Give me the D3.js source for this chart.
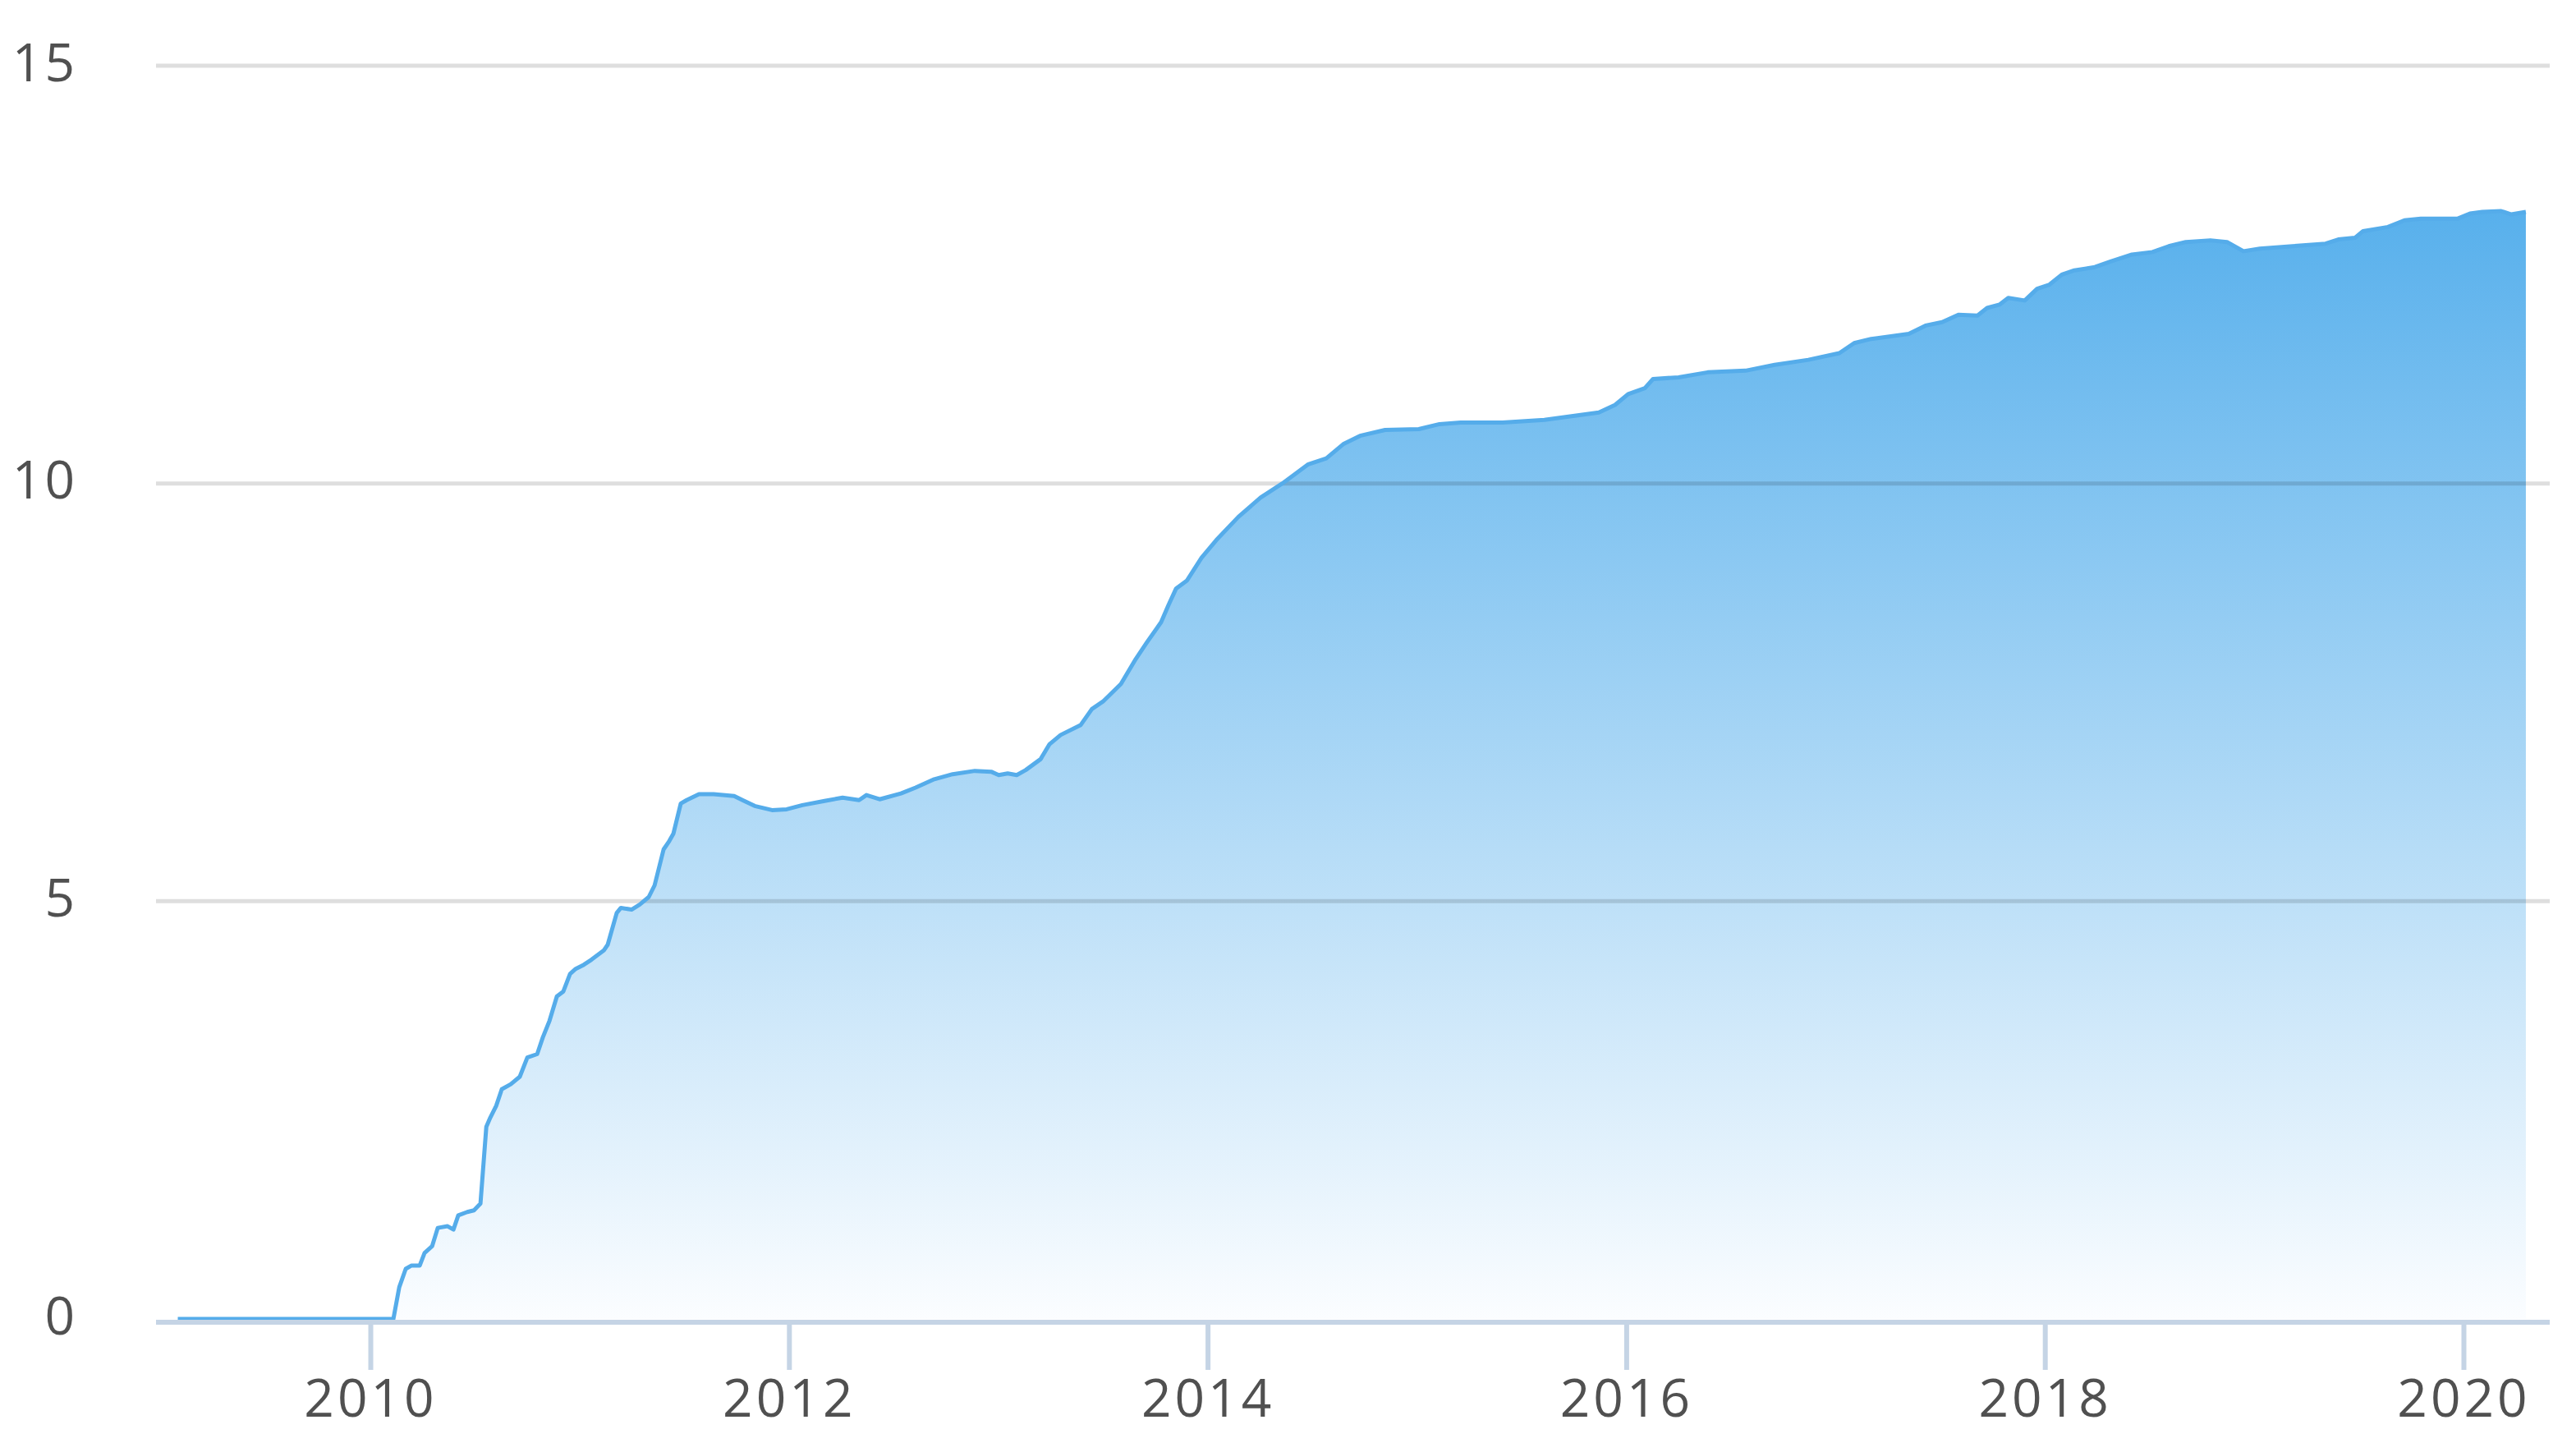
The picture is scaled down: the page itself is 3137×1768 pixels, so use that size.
<!DOCTYPE html>
<html>
<head>
<meta charset="utf-8">
<script src="https://cdn.jsdelivr.net/npm/d3@7"></script>
<style>
  html, body { margin: 0; padding: 0; background: #ffffff; }
  svg { display: block; }
  text { font-family: "Open Sans", "Noto Sans", sans-serif; }
</style>
</head>
<body>
<svg id="chart" width="3137" height="1768"></svg>
<script>
// ---- data (decimal years, values) ----
const years = [
  2009.08, 2010.11, 2010.138, 2010.169, 2010.197, 2010.236, 2010.259, 2010.295, 2010.322, 2010.369,
  2010.397, 2010.420, 2010.463, 2010.495, 2010.526, 2010.554, 2010.573, 2010.601, 2010.628, 2010.671,
  2010.714, 2010.750, 2010.797, 2010.824, 2010.856, 2010.891, 2010.922, 2010.954, 2010.981, 2011.020,
  2011.056, 2011.115, 2011.134, 2011.177, 2011.197, 2011.248, 2011.287, 2011.330, 2011.358, 2011.401,
  2011.428, 2011.448, 2011.483, 2011.511, 2011.570, 2011.640, 2011.738, 2011.778, 2011.836, 2011.919,
  2011.989, 2012.064, 2012.170, 2012.256, 2012.335, 2012.370, 2012.433, 2012.535, 2012.605, 2012.694,
  2012.782, 2012.888, 2012.966, 2013.002, 2013.045, 2013.088, 2013.131, 2013.202, 2013.245, 2013.298,
  2013.394, 2013.447, 2013.500, 2013.586, 2013.657, 2013.708, 2013.778, 2013.814, 2013.849, 2013.902,
  2013.971, 2014.041, 2014.147, 2014.253, 2014.357, 2014.481, 2014.567, 2014.648, 2014.728, 2014.848,
  2015.009, 2015.108, 2015.209, 2015.409, 2015.609, 2015.869, 2015.947, 2016.009, 2016.089, 2016.128,
  2016.250, 2016.389, 2016.570, 2016.709, 2016.870, 2017.018, 2017.089, 2017.170, 2017.350, 2017.430,
  2017.509, 2017.587, 2017.678, 2017.724, 2017.783, 2017.825, 2017.904, 2017.963, 2018.022, 2018.081,
  2018.141, 2018.239, 2018.317, 2018.416, 2018.514, 2018.592, 2018.673, 2018.791, 2018.870, 2018.949,
  2019.027, 2019.184, 2019.341, 2019.402, 2019.481, 2019.520, 2019.639, 2019.718, 2019.796, 2019.973,
  2020.031, 2020.090, 2020.180, 2020.229, 2020.298
];
const values = [
  0, 0, 0.38, 0.60, 0.64, 0.64, 0.79, 0.87, 1.09, 1.11,
  1.07, 1.24, 1.28, 1.30, 1.38, 2.30, 2.41, 2.55, 2.75, 2.81,
  2.90, 3.13, 3.17, 3.37, 3.57, 3.86, 3.92, 4.13, 4.19, 4.24,
  4.30, 4.41, 4.48, 4.86, 4.92, 4.90, 4.96, 5.05, 5.19, 5.62,
  5.72, 5.81, 6.17, 6.21, 6.28, 6.28, 6.26, 6.21, 6.14, 6.09,
  6.10, 6.15, 6.20, 6.24, 6.21, 6.27, 6.22, 6.29, 6.36, 6.46,
  6.52, 6.56, 6.55, 6.51, 6.53, 6.51, 6.57, 6.70, 6.88, 6.99,
  7.11, 7.30, 7.39, 7.60, 7.90, 8.09, 8.34, 8.55, 8.74, 8.84,
  9.11, 9.32, 9.60, 9.83, 10.00, 10.23, 10.30, 10.47, 10.57, 10.64,
  10.65, 10.71, 10.73, 10.73, 10.76, 10.85, 10.94, 11.07, 11.14, 11.25,
  11.27, 11.33, 11.35, 11.42, 11.48, 11.56, 11.68, 11.73, 11.79, 11.89,
  11.93, 12.02, 12.01, 12.10, 12.14, 12.22, 12.19, 12.33, 12.38, 12.50,
  12.55, 12.59, 12.66, 12.74, 12.77, 12.84, 12.89, 12.91, 12.89, 12.78,
  12.81, 12.84, 12.87, 12.92, 12.94, 13.02, 13.07, 13.15, 13.17, 13.17,
  13.23, 13.25, 13.26, 13.22, 13.25
];
const yTicks = [0, 5, 10, 15];
const xTicks = [2010, 2012, 2014, 2016, 2018, 2020];
const xExtent = [2008.976, 2020.412];
const yExtent = [0, 15];

// ---- layout ----
const svg = d3.select("#chart");
const plotLeft = 190, plotRight = 3105, plotTop = 80, plotBottom = 1606;

const x = d3.scaleLinear().domain(xExtent).range([plotLeft, plotRight]);
const y = d3.scaleLinear().domain(yExtent).range([plotBottom, plotTop]);

const data = years.map((yr, i) => ({ yr, v: values[i] }));

// gradient
const defs = svg.append("defs");
const grad = defs.append("linearGradient")
  .attr("id", "areaGrad")
  .attr("gradientUnits", "userSpaceOnUse")
  .attr("x1", 0).attr("x2", 0)
  .attr("y1", y(d3.max(values))).attr("y2", y(0));
grad.append("stop").attr("offset", 0).attr("stop-color", "#58b0ec");
grad.append("stop").attr("offset", 1).attr("stop-color", "#fbfdff");

// area
const area = d3.area()
  .x(d => x(d.yr))
  .y0(y(0))
  .y1(d => y(d.v));
svg.append("path")
  .datum(data)
  .attr("d", area)
  .attr("fill", "url(#areaGrad)");

// gridlines (on top, semi-transparent)
svg.append("g")
  .attr("class", "grid")
  .selectAll("line")
  .data(yTicks.filter(t => t > 0))
  .join("line")
  .attr("x1", plotLeft).attr("x2", plotRight)
  .attr("y1", d => y(d)).attr("y2", d => y(d))
  .attr("stroke", "#000")
  .attr("stroke-opacity", 0.13)
  .attr("stroke-width", 5);

// line
const line = d3.line()
  .x(d => x(d.yr))
  .y(d => y(d.v));
svg.append("path")
  .datum(data)
  .attr("d", line)
  .attr("fill", "none")
  .attr("stroke", "#55acea")
  .attr("stroke-width", 5)
  .attr("stroke-linejoin", "round");

// x axis
const xAxis = d3.axisBottom(x)
  .tickValues(xTicks)
  .tickFormat(d3.format("d"))
  .tickSizeInner(58)
  .tickSizeOuter(0)
  .tickPadding(58);
const gx = svg.append("g")
  .attr("transform", `translate(0,${plotBottom + 4})`)
  .call(xAxis);
gx.select(".domain")
  .attr("stroke", "#c5d4e5")
  .attr("stroke-width", 6)
  .attr("d", `M${plotLeft},0H${plotRight}`);
gx.selectAll(".tick line")
  .attr("stroke", "#c5d4e5")
  .attr("stroke-width", 6);
gx.selectAll(".tick text")
  .attr("fill", "#505050")
  .attr("font-size", 64)
  .attr("letter-spacing", 4)
  .attr("dy", 0)
  .attr("y", 115)
  .attr("font-family", "'Open Sans', 'Noto Sans', sans-serif");

// y axis labels
const yAxis = d3.axisLeft(y)
  .tickValues(yTicks)
  .tickFormat(d3.format("d"))
  .tickSize(0)
  .tickPadding(0);
const gy = svg.append("g")
  .attr("transform", `translate(94,0)`)
  .call(yAxis);
gy.select(".domain").remove();
gy.selectAll(".tick text")
  .attr("fill", "#505050")
  .attr("font-size", 64)
  .attr("letter-spacing", 3)
  .attr("dy", 0)
  .attr("y", 18)
  .attr("x", 0)
  .attr("text-anchor", "end")
  .attr("font-family", "'Open Sans', 'Noto Sans', sans-serif");
</script>
</body>
</html>
